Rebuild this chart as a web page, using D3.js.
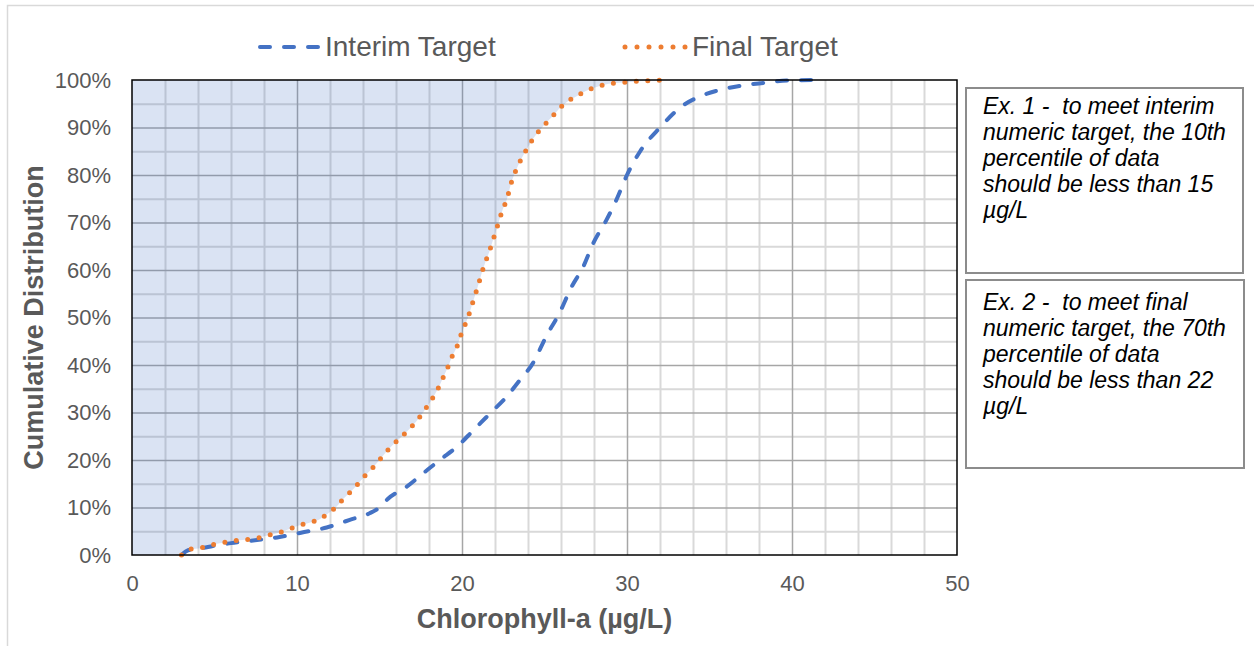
<!DOCTYPE html>
<html><head><meta charset="utf-8">
<script src="https://cdn.jsdelivr.net/npm/d3@7/dist/d3.min.js"></script>
<style>body{margin:0;background:#fff}svg{display:block}</style>
</head><body>
<svg id="c" width="1254" height="646"></svg>
<script>
// ---- data ----
const xTicks = [0, 10, 20, 30, 40, 50];
const yTicks = [0, 10, 20, 30, 40, 50, 60, 70, 80, 90, 100];
const seriesNames = ["Interim Target", "Final Target"];

const interimX = [3.0, 3.4, 4.3, 4.9, 6.0, 7.45, 8.8, 10.25, 11.8, 13.2, 14.4, 15.0, 15.5, 16.65, 17.65, 18.65, 19.7, 20.7, 21.7, 22.7, 23.5, 24.3, 25.1, 25.9, 26.65, 27.35, 27.95, 28.75, 29.35, 30.0, 30.8, 32.0, 33.3, 34.4, 35.5, 36.9, 38.3, 39.7, 41.5];
const interimY = [0, 1.0, 1.5, 1.9, 2.5, 3.1, 3.7, 4.7, 5.8, 7.4, 8.8, 10.0, 11.8, 14.4, 17.2, 20.0, 22.8, 26.3, 29.8, 33.3, 36.8, 40.4, 46.0, 50.9, 56.5, 60.7, 65.6, 70.5, 74.7, 80.0, 85.0, 90.0, 94.4, 96.5, 97.8, 98.8, 99.4, 99.9, 100];

const finalX = [3.0, 3.5, 4.2, 4.8, 5.5, 6.2, 6.85, 7.5, 8.2, 8.8, 9.5, 10.1, 10.75, 11.35, 11.9, 12.4, 12.8, 13.25, 13.7, 14.1, 14.55, 15.0, 15.4, 15.85, 16.3, 16.75, 17.2, 17.6, 17.95, 18.3, 18.6, 18.9, 19.15, 19.4, 19.7, 19.9, 20.15, 20.4, 20.6, 20.8, 21.0, 21.2, 21.4, 21.65, 21.85, 22.05, 22.25, 22.45, 22.7, 23.0, 23.4, 23.85, 24.3, 24.8, 25.5, 25.9, 26.4, 26.95, 27.5, 28.2, 28.9, 29.5, 30.2, 30.9, 31.6, 32.3];
const finalY = [0, 1.2, 1.5, 2.1, 2.6, 3.0, 3.2, 3.5, 4.1, 4.6, 5.4, 6.2, 6.8, 7.5, 8.8, 10.2, 11.8, 13.3, 15.0, 16.6, 18.2, 20.0, 21.7, 23.3, 24.8, 26.3, 28.0, 29.8, 31.6, 33.5, 35.4, 37.7, 39.6, 41.8, 43.9, 46.0, 48.2, 50.4, 52.6, 54.8, 57.0, 59.4, 61.5, 63.8, 66.0, 68.1, 70.4, 72.6, 74.7, 78.5, 82.0, 85.0, 87.6, 89.8, 92.4, 94.0, 95.5, 96.6, 97.7, 98.6, 99.2, 99.4, 99.6, 99.8, 99.9, 100];

const note1Lines = ["Ex. 1 -  to meet interim", "numeric target, the 10th", "percentile of data", "should be less than 15", "µg/L"];
const note2Lines = ["Ex. 2 -  to meet final", "numeric target, the 70th", "percentile of data", "should be less than 22", "µg/L"];

const xTitle = "Chlorophyll-a (µg/L)";
const yTitle = "Cumulative Distribution";

// ---- drawing ----
const FONT = "'Liberation Sans', Arial, sans-serif";
const GRAY = "#595959";
const svg = d3.select("#c");
const P = {l: 132, t: 80, r: 957, b: 555};
const x = d3.scaleLinear().domain([0, 50]).range([P.l, P.r]);
const y = d3.scaleLinear().domain([0, 100]).range([P.b, P.t]);

// outer chart border
svg.append("rect").attr("x", 7.5).attr("y", 5.5).attr("width", 1300).attr("height", 700)
  .attr("fill", "#fff").attr("stroke", "#d9d9d9").attr("stroke-width", 1.5);

// gridlines
const minorX = d3.range(2, 50, 2).filter(v => v % 10 !== 0);
const majorX = [10, 20, 30, 40];
const minorY = d3.range(5, 100, 10);
const majorY = [10, 20, 30, 40, 50, 60, 70, 80, 90];
function grid(axis, vals, color, w, cls) {
  const g = svg.append("g").attr("class", cls);
  if (axis === "x") {
    g.attr("transform", `translate(0,${P.b})`)
     .call(d3.axisBottom(x).tickValues(vals).tickSize(-(P.b - P.t)).tickFormat(""));
  } else {
    g.attr("transform", `translate(${P.l},0)`)
     .call(d3.axisLeft(y).tickValues(vals).tickSize(-(P.r - P.l)).tickFormat(""));
  }
  g.select(".domain").remove();
  g.selectAll("line").attr("stroke", color).attr("stroke-width", w);
}
grid("x", minorX, "#d9d9d9", 2, "gminx");
grid("y", minorY, "#d9d9d9", 2, "gminy");
grid("x", majorX, "#a6a6a6", 1.5, "gmajx");
grid("y", majorY, "#a6a6a6", 1.5, "gmajy");

// clip
svg.append("clipPath").attr("id", "pc").append("rect")
  .attr("x", P.l).attr("y", P.t).attr("width", P.r - P.l).attr("height", P.b - P.t);

const finalPts = finalX.map((v, i) => [v, finalY[i]]);
const interimPts = interimX.map((v, i) => [v, interimY[i]]);
const line = d3.line().x(d => x(d[0])).y(d => y(d[1])).curve(d3.curveMonotoneX);

// shaded region left of the final target curve
const shadePath = line(finalPts) + `L${x(0)},${y(100)}L${x(0)},${y(0)}Z`;
svg.append("path").attr("d", shadePath).attr("fill", "#4472C4").attr("fill-opacity", 0.2)
  .attr("clip-path", "url(#pc)");

// series lines
svg.append("path").attr("d", line(interimPts)).attr("fill", "none")
  .attr("stroke", "#4472C4").attr("stroke-width", 4).attr("stroke-linecap", "round")
  .attr("stroke-dasharray", "10 14");
svg.append("path").attr("d", line(finalPts)).attr("fill", "none")
  .attr("stroke", "#ED7D31").attr("stroke-width", 5).attr("stroke-linecap", "round")
  .attr("stroke-dasharray", "0 11.5");

// plot border
svg.append("rect").attr("x", P.l).attr("y", P.t).attr("width", P.r - P.l).attr("height", P.b - P.t)
  .attr("fill", "none").attr("stroke", "#000").attr("stroke-width", 1.5);

// axes labels
const ya = svg.append("g").attr("transform", `translate(${P.l},0)`)
  .call(d3.axisLeft(y).tickValues(yTicks).tickSize(0).tickPadding(21).tickFormat(d => d + "%"));
ya.select(".domain").remove();
ya.selectAll("text").attr("font-family", FONT).attr("font-size", 22).attr("fill", GRAY);

const xa = svg.append("g").attr("transform", `translate(0,${P.b})`)
  .call(d3.axisBottom(x).tickValues(xTicks).tickSize(0).tickPadding(20.5).tickFormat(d3.format("d")));
xa.select(".domain").remove();
xa.selectAll("text").attr("font-family", FONT).attr("font-size", 22).attr("fill", GRAY);

// axis titles
svg.append("text").attr("x", (P.l + P.r) / 2).attr("y", 628).attr("text-anchor", "middle")
  .attr("font-family", FONT).attr("font-weight", "bold").attr("font-size", 27).attr("fill", GRAY)
  .text(xTitle);
svg.append("text").attr("transform", `translate(43,${(P.t + P.b) / 2}) rotate(-90)`)
  .attr("text-anchor", "middle")
  .attr("font-family", FONT).attr("font-weight", "bold").attr("font-size", 27).attr("fill", GRAY)
  .text(yTitle);

// legend
const lg = svg.append("g");
lg.append("path").attr("d", "M260,47L318,47").attr("stroke", "#4472C4").attr("stroke-width", 4)
  .attr("stroke-linecap", "round").attr("stroke-dasharray", "10 14");
lg.append("text").attr("x", 325).attr("y", 56).attr("font-family", FONT).attr("font-size", 28)
  .attr("fill", GRAY).text(seriesNames[0]);
lg.append("path").attr("d", "M625,47L686,47").attr("stroke", "#ED7D31").attr("stroke-width", 5)
  .attr("stroke-linecap", "round").attr("stroke-dasharray", "0 12");
lg.append("text").attr("x", 692).attr("y", 56).attr("font-family", FONT).attr("font-size", 28)
  .attr("fill", GRAY).text(seriesNames[1]);

// note boxes
function note(bx, by, bw, bh, lines, firstBase) {
  svg.append("rect").attr("x", bx).attr("y", by).attr("width", bw).attr("height", bh)
    .attr("fill", "#fff").attr("stroke", "#8c8c8c").attr("stroke-width", 2);
  const t = svg.append("text").attr("font-family", FONT).attr("font-style", "italic")
    .attr("font-size", 23).attr("fill", "#000").style("white-space", "pre");
  lines.forEach((s, i) => t.append("tspan").attr("x", bx + 17).attr("y", firstBase + i * 26).text(s));
}
note(966, 88, 277, 185, note1Lines, 114);
note(966, 280, 278, 188, note2Lines, 310);
</script>
</body></html>
